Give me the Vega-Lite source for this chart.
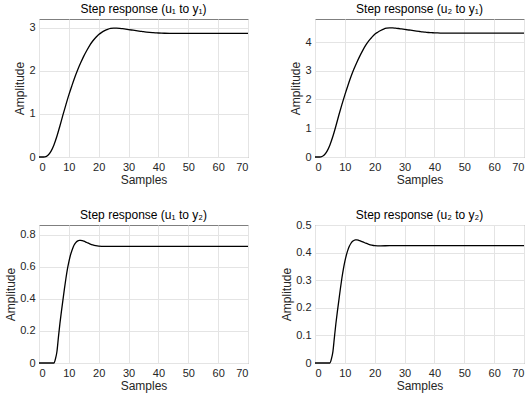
{
  "$schema": "https://vega.github.io/schema/vega-lite/v6.json",
  "padding": {"left": 4, "top": 2, "right": 5, "bottom": 5},
  "columns": 2,
  "spacing": {"column": 67, "row": 68},
  "bounds": "flush",
  "config": {
    "font": "Liberation Sans",
    "view": {"stroke": "#7f7f7f", "strokeWidth": 1},
    "axis": {
      "grid": true,
      "gridColor": "#e4e4e4",
      "gridWidth": 1,
      "domain": false,
      "ticks": false,
      "labelFont": "Liberation Sans",
      "labelFontSize": 11,
      "labelColor": "#262626",
      "titleFont": "Liberation Sans",
      "titleFontSize": 12,
      "titleFontWeight": "normal",
      "titleColor": "#262626",
      "labelPadding": 4,
      "titlePadding": 2
    },
    "title": {"font": "Liberation Sans", "fontSize": 12, "fontWeight": "normal", "color": "#000000", "offset": 3}
  },
  "datasets": {
    "p1": [
      {"t": 0, "v": 0}, {"t": 1, "v": 0}, {"t": 2, "v": 0.005}, {"t": 3, "v": 0.04}, {"t": 4, "v": 0.13},
      {"t": 5, "v": 0.28}, {"t": 6, "v": 0.48}, {"t": 7, "v": 0.72}, {"t": 8, "v": 0.97}, {"t": 9, "v": 1.21},
      {"t": 10, "v": 1.44}, {"t": 11, "v": 1.65}, {"t": 12, "v": 1.85}, {"t": 13, "v": 2.03}, {"t": 14, "v": 2.19},
      {"t": 15, "v": 2.34}, {"t": 16, "v": 2.47}, {"t": 17, "v": 2.59}, {"t": 18, "v": 2.69}, {"t": 19, "v": 2.77},
      {"t": 20, "v": 2.84}, {"t": 21, "v": 2.89}, {"t": 22, "v": 2.93}, {"t": 23, "v": 2.96}, {"t": 24, "v": 2.98},
      {"t": 25, "v": 2.99}, {"t": 26, "v": 2.99}, {"t": 27, "v": 2.985}, {"t": 28, "v": 2.975}, {"t": 29, "v": 2.965},
      {"t": 30, "v": 2.955}, {"t": 31, "v": 2.945}, {"t": 32, "v": 2.935}, {"t": 33, "v": 2.925}, {"t": 34, "v": 2.915},
      {"t": 35, "v": 2.905}, {"t": 36, "v": 2.897}, {"t": 37, "v": 2.89}, {"t": 38, "v": 2.884}, {"t": 39, "v": 2.879},
      {"t": 40, "v": 2.875}, {"t": 41, "v": 2.872}, {"t": 42, "v": 2.87}, {"t": 44, "v": 2.868}, {"t": 46, "v": 2.867},
      {"t": 50, "v": 2.867}, {"t": 55, "v": 2.867}, {"t": 60, "v": 2.867}, {"t": 65, "v": 2.867}, {"t": 70, "v": 2.867}
    ],
    "p2": [
      {"t": 0, "v": 0}, {"t": 1, "v": 0}, {"t": 2, "v": 0.008}, {"t": 3, "v": 0.06}, {"t": 4, "v": 0.195},
      {"t": 5, "v": 0.42}, {"t": 6, "v": 0.72}, {"t": 7, "v": 1.08}, {"t": 8, "v": 1.46}, {"t": 9, "v": 1.82},
      {"t": 10, "v": 2.16}, {"t": 11, "v": 2.48}, {"t": 12, "v": 2.78}, {"t": 13, "v": 3.05}, {"t": 14, "v": 3.29},
      {"t": 15, "v": 3.51}, {"t": 16, "v": 3.71}, {"t": 17, "v": 3.89}, {"t": 18, "v": 4.04}, {"t": 19, "v": 4.16},
      {"t": 20, "v": 4.27}, {"t": 21, "v": 4.34}, {"t": 22, "v": 4.40}, {"t": 23, "v": 4.45}, {"t": 24, "v": 4.48},
      {"t": 25, "v": 4.49}, {"t": 26, "v": 4.49}, {"t": 27, "v": 4.48}, {"t": 28, "v": 4.47}, {"t": 29, "v": 4.455},
      {"t": 30, "v": 4.44}, {"t": 31, "v": 4.425}, {"t": 32, "v": 4.41}, {"t": 33, "v": 4.395}, {"t": 34, "v": 4.38},
      {"t": 35, "v": 4.365}, {"t": 36, "v": 4.35}, {"t": 37, "v": 4.34}, {"t": 38, "v": 4.33}, {"t": 39, "v": 4.325},
      {"t": 40, "v": 4.318}, {"t": 41, "v": 4.314}, {"t": 42, "v": 4.311}, {"t": 44, "v": 4.308}, {"t": 46, "v": 4.307},
      {"t": 50, "v": 4.306}, {"t": 55, "v": 4.306}, {"t": 60, "v": 4.306}, {"t": 65, "v": 4.306}, {"t": 70, "v": 4.306}
    ],
    "p3": [
      {"t": 0, "v": 0}, {"t": 1, "v": 0}, {"t": 2, "v": 0}, {"t": 3, "v": 0}, {"t": 4, "v": 0}, {"t": 5, "v": 0},
      {"t": 5.5, "v": 0.025}, {"t": 6, "v": 0.07}, {"t": 6.5, "v": 0.16}, {"t": 7, "v": 0.245}, {"t": 7.5, "v": 0.32},
      {"t": 8, "v": 0.39}, {"t": 8.5, "v": 0.46}, {"t": 9, "v": 0.525}, {"t": 9.5, "v": 0.583}, {"t": 10, "v": 0.63},
      {"t": 10.5, "v": 0.67}, {"t": 11, "v": 0.70}, {"t": 11.5, "v": 0.725}, {"t": 12, "v": 0.742}, {"t": 12.5, "v": 0.754},
      {"t": 13, "v": 0.761}, {"t": 13.5, "v": 0.764}, {"t": 14, "v": 0.764}, {"t": 14.5, "v": 0.762}, {"t": 15, "v": 0.759},
      {"t": 16, "v": 0.751}, {"t": 17, "v": 0.743}, {"t": 18, "v": 0.736}, {"t": 19, "v": 0.731}, {"t": 20, "v": 0.728},
      {"t": 21, "v": 0.727}, {"t": 22, "v": 0.727}, {"t": 25, "v": 0.727}, {"t": 30, "v": 0.727}, {"t": 40, "v": 0.727},
      {"t": 50, "v": 0.727}, {"t": 60, "v": 0.727}, {"t": 70, "v": 0.727}
    ],
    "p4": [
      {"t": 0, "v": 0}, {"t": 1, "v": 0}, {"t": 2, "v": 0}, {"t": 3, "v": 0}, {"t": 4, "v": 0}, {"t": 5, "v": 0},
      {"t": 5.5, "v": 0.015}, {"t": 6, "v": 0.041}, {"t": 6.5, "v": 0.093}, {"t": 7, "v": 0.143}, {"t": 7.5, "v": 0.187},
      {"t": 8, "v": 0.228}, {"t": 8.5, "v": 0.269}, {"t": 9, "v": 0.307}, {"t": 9.5, "v": 0.34}, {"t": 10, "v": 0.368},
      {"t": 10.5, "v": 0.391}, {"t": 11, "v": 0.409}, {"t": 11.5, "v": 0.423}, {"t": 12, "v": 0.433}, {"t": 12.5, "v": 0.44},
      {"t": 13, "v": 0.444}, {"t": 13.5, "v": 0.446}, {"t": 14, "v": 0.446}, {"t": 14.5, "v": 0.445}, {"t": 15, "v": 0.443},
      {"t": 16, "v": 0.439}, {"t": 17, "v": 0.434}, {"t": 18, "v": 0.43}, {"t": 19, "v": 0.427}, {"t": 20, "v": 0.425},
      {"t": 21, "v": 0.4245}, {"t": 22, "v": 0.4245}, {"t": 25, "v": 0.425}, {"t": 30, "v": 0.425}, {"t": 40, "v": 0.425},
      {"t": 50, "v": 0.425}, {"t": 60, "v": 0.425}, {"t": 70, "v": 0.425}
    ]
  },
  "concat": [
    {
      "width": 209, "height": 138,
      "title": {"text": "Step response (u₁ to y₁)", "fontWeight": "normal", "fontSize": 12},
      "data": {"name": "p1"},
      "mark": {"type": "line", "color": "#000000", "strokeWidth": 1.3, "interpolate": "monotone"},
      "encoding": {
        "x": {"field": "t", "type": "quantitative", "title": "Samples", "scale": {"domain": [0, 70], "nice": false}, "axis": {"values": [0, 10, 20, 30, 40, 50, 60, 70]}},
        "y": {"field": "v", "type": "quantitative", "title": "Amplitude", "scale": {"domain": [0, 3.2], "nice": false, "zero": true}, "axis": {"values": [0, 1, 2, 3]}}
      }
    },
    {
      "width": 209, "height": 138,
      "title": {"text": "Step response (u₂ to y₁)", "fontWeight": "normal", "fontSize": 12},
      "data": {"name": "p2"},
      "mark": {"type": "line", "color": "#000000", "strokeWidth": 1.3, "interpolate": "monotone"},
      "encoding": {
        "x": {"field": "t", "type": "quantitative", "title": "Samples", "scale": {"domain": [0, 70], "nice": false}, "axis": {"values": [0, 10, 20, 30, 40, 50, 60, 70]}},
        "y": {"field": "v", "type": "quantitative", "title": "Amplitude", "scale": {"domain": [0, 4.8], "nice": false, "zero": true}, "axis": {"values": [0, 1, 2, 3, 4]}}
      }
    },
    {
      "width": 209, "height": 138,
      "title": {"text": "Step response (u₁ to y₂)", "fontWeight": "normal", "fontSize": 12},
      "data": {"name": "p3"},
      "mark": {"type": "line", "color": "#000000", "strokeWidth": 1.3, "interpolate": "monotone"},
      "encoding": {
        "x": {"field": "t", "type": "quantitative", "title": "Samples", "scale": {"domain": [0, 70], "nice": false}, "axis": {"values": [0, 10, 20, 30, 40, 50, 60, 70]}},
        "y": {"field": "v", "type": "quantitative", "title": "Amplitude", "scale": {"domain": [0, 0.86], "nice": false, "zero": true}, "axis": {"values": [0, 0.2, 0.4, 0.6, 0.8], "format": "~g"}}
      }
    },
    {
      "width": 209, "height": 138,
      "title": {"text": "Step response (u₂ to y₂)", "fontWeight": "normal", "fontSize": 12, "offset": -3},
      "data": {"name": "p4"},
      "mark": {"type": "line", "color": "#000000", "strokeWidth": 1.3, "interpolate": "monotone"},
      "encoding": {
        "x": {"field": "t", "type": "quantitative", "title": "Samples", "scale": {"domain": [0, 70], "nice": false}, "axis": {"values": [0, 10, 20, 30, 40, 50, 60, 70]}},
        "y": {"field": "v", "type": "quantitative", "title": "Amplitude", "scale": {"domain": [0, 0.5], "nice": false, "zero": true}, "axis": {"values": [0, 0.1, 0.2, 0.3, 0.4, 0.5], "format": "~g"}}
      }
    }
  ]
}
